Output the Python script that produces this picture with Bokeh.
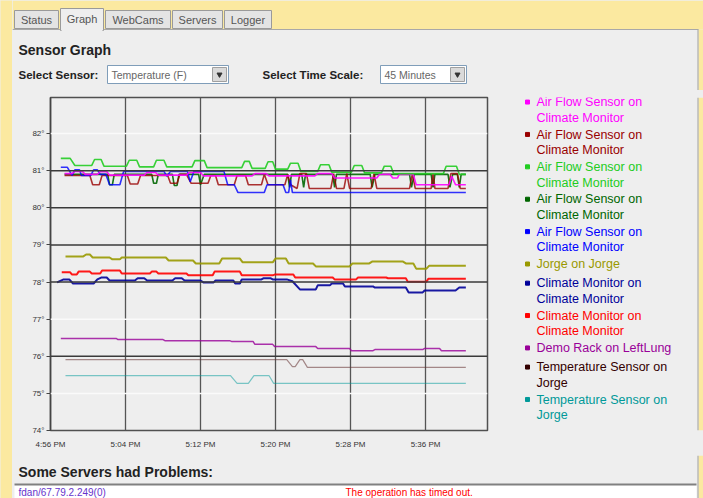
from bokeh.plotting import figure
from bokeh.layouts import row, column
from bokeh.models import Range1d, Span, FixedTicker
from bokeh.core.properties import value
from bokeh.embed import file_html
from bokeh.resources import INLINE

# ---------------- data ----------------
x_ticks = [0, 8, 16, 24, 32, 40]
x_labels = ["4:56 PM", "5:04 PM", "5:12 PM", "5:20 PM", "5:28 PM", "5:36 PM"]
y_ticks = [74, 75, 76, 77, 78, 79, 80, 81, 82]
y_labels = ["74°", "75°", "76°", "77°", "78°", "79°", "80°", "81°", "82°"]

series_names = [
    "Air Flow Sensor on\nClimate Monitor",
    "Air Flow Sensor on\nClimate Monitor",
    "Air Flow Sensor on\nClimate Monitor",
    "Air Flow Sensor on\nClimate Monitor",
    "Air Flow Sensor on\nClimate Monitor",
    "Jorge on Jorge",
    "Climate Monitor on\nClimate Monitor",
    "Climate Monitor on\nClimate Monitor",
    "Demo Rack on LeftLung",
    "Temperature Sensor on\nJorge",
    "Temperature Sensor on\nJorge",
]
series_colors = ["#FF00FF", "#990000", "#22CC22", "#006600", "#0000FF", "#999900",
                 "#000099", "#FF0000", "#990099", "#330000", "#009999"]

# minutes after 4:56 PM, temperature in °F
airflow1_t = [1.5, 2.3, 2.6, 3.4, 3.7, 5.0, 5.3, 6.0, 6.3, 10.0, 10.3, 11.2, 11.5, 14.5, 14.8, 16.0, 16.3,
              21.5, 21.8, 23.0, 23.3, 28.2, 28.5, 30.0, 30.3, 34.8, 35.1, 36.2, 36.5, 37.0, 37.2, 38.7, 39.0,
              42.5, 42.8, 43.2, 44.3]
airflow1_v = [80.92, 80.92, 80.98, 80.98, 80.90, 80.90, 80.97, 80.97, 80.88, 80.88, 80.95, 80.95, 80.88,
              80.88, 80.95, 80.95, 80.86, 80.86, 80.92, 80.92, 80.86, 80.86, 80.92, 80.92, 80.80, 80.80,
              80.90, 80.90, 80.80, 80.80, 80.90, 80.90, 80.62, 80.62, 80.85, 80.62, 80.62]

airflow2_t = [1.5, 4.2, 4.5, 5.2, 5.5, 8.2, 8.5, 9.3, 9.6, 12.5, 12.8, 13.5, 13.8, 14.5, 15.0, 16.8, 17.1,
              17.6, 17.9, 19.6, 19.9, 20.8, 21.1, 22.5, 22.8, 23.2, 25.0, 25.3, 25.6, 26.3, 26.6, 27.3, 27.6,
              29.9, 30.2, 30.5, 31.3, 31.6, 31.9, 34.2, 34.5, 34.8, 38.3, 38.6, 38.9, 40.6, 40.8, 41.0,
              42.4, 42.7, 43.4, 43.7, 44.3]
airflow2_v = [80.87, 80.87, 80.62, 80.62, 80.87, 80.87, 80.64, 80.64, 80.87, 80.87, 80.66, 80.66, 80.90,
              80.90, 80.66, 80.66, 80.87, 80.87, 80.62, 80.62, 80.87, 80.87, 80.62, 80.62, 80.90, 80.62,
              80.62, 80.90, 80.62, 80.52, 80.92, 80.92, 80.52, 80.52, 80.92, 80.52, 80.52, 80.92, 80.52,
              80.52, 80.92, 80.52, 80.52, 80.92, 80.52, 80.52, 80.92, 80.52, 80.52, 80.92, 80.92, 80.52,
              80.52]

airflow3_t = [1.1, 2.1, 2.6, 4.4, 4.7, 5.4, 5.7, 8.1, 8.4, 9.2, 9.5, 11.0, 11.3, 12.1, 12.4, 15.1, 15.4,
              16.4, 16.7, 20.4, 20.7, 21.2, 21.5, 22.9, 23.2, 23.7, 24.0, 25.3, 25.6, 26.4, 26.7, 28.5,
              28.8, 29.7, 30.0, 32.1, 32.4, 33.2, 33.5, 35.3, 35.6, 36.3, 36.6, 41.9, 42.2, 43.3, 43.6, 44.3]
airflow3_v = [81.33, 81.33, 81.14, 81.14, 81.30, 81.30, 81.12, 81.12, 81.28, 81.28, 81.10, 81.10, 81.28,
              81.28, 81.10, 81.10, 81.27, 81.27, 81.08, 81.08, 81.25, 81.25, 81.06, 81.06, 81.24, 81.24,
              81.04, 81.04, 81.20, 81.20, 80.98, 80.98, 81.16, 81.16, 80.96, 80.96, 81.14, 81.14, 80.94,
              80.94, 81.12, 81.12, 80.92, 80.92, 81.12, 81.12, 80.90, 80.90]

airflow4_t = [1.5, 6.1, 6.3, 6.6, 6.8, 10.8, 11.0, 11.3, 11.5, 13.0, 13.2, 13.5, 13.7, 15.8, 16.0, 16.4,
              25.3, 25.5, 25.7, 26.8, 27.0, 27.2, 30.1, 30.3, 30.5, 34.1, 34.3, 34.6, 38.3, 38.5, 38.8,
              40.6, 40.8, 41.0, 42.4, 42.6, 42.9, 43.4, 43.6, 43.8, 44.3]
airflow4_v = [80.90, 80.90, 80.62, 80.62, 80.90, 80.90, 80.66, 80.66, 80.90, 80.90, 80.60, 80.60, 80.90,
              80.90, 80.62, 80.90, 80.90, 80.55, 80.90, 80.90, 80.55, 80.90, 80.90, 80.55, 80.90, 80.90,
              80.55, 80.90, 80.90, 80.55, 80.90, 80.90, 80.55, 80.90, 80.90, 80.55, 80.90, 80.90, 80.55,
              80.90, 80.90]

airflow5_t = [1.1, 1.8, 2.3, 2.6, 3.1, 3.3, 4.3, 4.6, 5.0, 5.3, 5.9, 6.3, 7.4, 7.8, 12.1, 12.4, 12.8,
              14.6, 14.9, 15.3, 18.5, 18.9, 19.6, 20.0, 22.8, 23.1, 24.8, 25.1, 25.4, 25.6, 25.8, 44.3]
airflow5_v = [81.09, 81.09, 80.87, 81.02, 81.02, 80.87, 80.87, 81.02, 81.02, 80.90, 80.90, 80.62, 80.62,
              80.98, 80.98, 80.85, 80.98, 80.98, 80.70, 80.98, 80.98, 80.62, 80.62, 80.41, 80.41, 80.62,
              80.62, 80.41, 80.41, 80.75, 80.41, 80.41]

jorge_t = [1.6, 3.5, 3.8, 4.2, 4.5, 6.3, 6.6, 7.4, 7.6, 12.3, 12.6, 15.2, 15.5, 18.0, 18.3, 20.2, 20.5,
           23.7, 24.0, 25.1, 25.4, 28.0, 28.3, 31.9, 32.2, 34.0, 34.3, 37.6, 37.9, 38.7, 39.0, 40.1, 40.4,
           44.3]
jorge_v = [78.69, 78.69, 78.74, 78.74, 78.66, 78.66, 78.61, 78.61, 78.66, 78.66, 78.58, 78.58, 78.50,
           78.50, 78.63, 78.63, 78.53, 78.53, 78.63, 78.63, 78.50, 78.50, 78.42, 78.42, 78.50, 78.50,
           78.55, 78.55, 78.50, 78.50, 78.36, 78.36, 78.44, 78.44]

climate_navy_t = [0.7, 1.4, 2.0, 2.4, 4.6, 5.0, 5.4, 6.0, 6.3, 9.0, 9.3, 10.0, 10.3, 13.0, 13.3, 14.0,
                  14.3, 16.0, 16.3, 17.4, 17.6, 19.5, 19.7, 20.2, 20.4, 22.5, 22.7, 23.5, 23.7, 25.2,
                  25.8, 26.6, 28.3, 28.5, 29.8, 30.0, 31.2, 31.4, 34.4, 34.6, 37.9, 38.2, 39.7, 39.9,
                  43.2, 43.6, 44.3]
climate_navy_v = [77.99, 78.07, 78.07, 77.96, 77.96, 78.07, 78.12, 78.12, 78.04, 78.04, 78.10, 78.10,
                  78.04, 78.04, 78.10, 78.10, 78.04, 78.04, 77.99, 77.99, 78.04, 78.04, 77.96, 77.96,
                  78.07, 78.07, 78.10, 78.10, 78.07, 78.07, 78.02, 77.80, 77.80, 77.91, 77.91, 77.96,
                  77.96, 77.88, 77.88, 77.85, 77.85, 77.72, 77.72, 77.77, 77.77, 77.85, 77.85]

climate_red_t = [1.2, 2.1, 2.3, 2.8, 3.0, 4.2, 4.4, 5.3, 5.5, 7.4, 7.6, 10.6, 10.8, 11.3, 11.5, 14.5, 14.7,
                 17.3, 17.5, 20.2, 20.4, 23.7, 23.9, 25.9, 26.1, 30.1, 30.3, 32.6, 32.8, 35.8, 36.0, 37.9,
                 38.1, 40.1, 40.3, 44.3]
climate_red_v = [78.26, 78.26, 78.20, 78.20, 78.28, 78.28, 78.23, 78.23, 78.31, 78.31, 78.23, 78.23, 78.28,
                 78.28, 78.23, 78.23, 78.18, 78.18, 78.28, 78.28, 78.18, 78.18, 78.20, 78.20, 78.12, 78.12,
                 78.07, 78.07, 78.12, 78.12, 78.10, 78.10, 78.01, 78.01, 78.09, 78.09]

demo_t = [1.1, 7.0, 7.2, 12.0, 12.2, 19.1, 19.3, 21.6, 21.8, 23.7, 23.9, 28.3, 28.5, 31.9, 32.1, 34.4,
          34.6, 39.7, 39.9, 41.5, 41.7, 44.3]
demo_v = [76.48, 76.48, 76.45, 76.45, 76.42, 76.42, 76.40, 76.40, 76.32, 76.32, 76.26, 76.26, 76.21, 76.21,
          76.15, 76.15, 76.18, 76.18, 76.21, 76.21, 76.15, 76.15]

tempsensor_brown_t = [1.6, 25.2, 25.8, 26.1, 26.6, 26.9, 27.4, 44.3]
tempsensor_brown_v = [75.91, 75.91, 75.72, 75.72, 75.91, 75.91, 75.70, 75.70]

tempsensor_teal_t = [1.6, 19.2, 19.9, 21.1, 21.7, 23.3, 23.8, 44.3]
tempsensor_teal_v = [75.48, 75.48, 75.27, 75.27, 75.48, 75.48, 75.27, 75.27]

dark_grid = [78, 79, 80, 81, 76]
light_grid = [82, 77, 75]

# ---------------- styling helpers ----------------
PANEL = "#EEEEEE"
YELLOW = "#FBE9A0"
FONT = "Liberation Sans"


def blank(w, h, x0, x1, y_top, y_bottom, bg):
    f = figure(width=w, height=h, x_range=Range1d(x0, x1), y_range=Range1d(y_bottom, y_top),
               output_backend="svg", toolbar_location=None, min_border=0,
               x_axis_location=None, y_axis_location=None,
               background_fill_color=bg, border_fill_color=bg, outline_line_color=None)
    f.grid.visible = False
    return f


def right_edge(f, y_top, y_bottom):
    f.quad(left=[698], right=[703], top=[y_top], bottom=[y_bottom], fill_color=YELLOW, line_color=None)
    f.segment(x0=[697.5], y0=[y_top], x1=[697.5], y1=[y_bottom], line_color="#A0A0A0", line_width=1)


# ---------------- left yellow strip ----------------
strip = blank(12, 498, 0, 12, 0, 498, YELLOW)

# ---------------- header ----------------
hdr = blank(691, 90, 12, 703, 0, 90, PANEL)
hdr.quad(left=[12], right=[703], top=[0], bottom=[29], fill_color=YELLOW, line_color=None)
right_edge(hdr, 29, 90)
hdr.segment(x0=[12], y0=[29], x1=[698], y1=[29], line_color="#A8A8A8", line_width=1)
tab_names = ["Status", "Graph", "WebCams", "Servers", "Logger"]
tab_l = [14, 60, 105, 172, 224]
tab_r = [58, 103, 170, 222, 271]
for i, nm in enumerate(tab_names):
    active = (nm == "Graph")
    top = 8 if active else 10
    bot = 30 if active else 28
    hdr.quad(left=[tab_l[i]], right=[tab_r[i]], top=[top], bottom=[bot],
             fill_color=PANEL if active else "#E4E4E4", line_color="#9A9A9A", line_width=1)
    if active:
        hdr.segment(x0=[tab_l[i] + 1], y0=[29.5], x1=[tab_r[i] - 1], y1=[29.5], line_color=PANEL, line_width=3)
    hdr.text(x=[(tab_l[i] + tab_r[i]) / 2], y=[19 if not active else 18.5], text=[nm],
             text_font=value(FONT), text_font_size="11px", text_color="#555555",
             text_align="center", text_baseline="middle")

hdr.text(x=[18], y=[49], text=["Sensor Graph"], text_font=value(FONT), text_font_size="14px",
         text_font_style="bold", text_color="#222222", text_baseline="middle")
hdr.text(x=[18, 262], y=[74, 74], text=["Select Sensor:", "Select Time Scale:"], text_font=value(FONT),
         text_font_size="11.5px", text_font_style="bold", text_color="#222222", text_baseline="middle")
# dropdowns
dd_l = [107, 380]
dd_r = [228, 466]
dd_txt = ["Temperature (F)", "45 Minutes"]
for i in range(2):
    hdr.quad(left=[dd_l[i]], right=[dd_r[i]], top=[65], bottom=[83], fill_color="white",
             line_color="#7F9DB9", line_width=1)
    hdr.quad(left=[dd_r[i] - 16], right=[dd_r[i] - 2], top=[67], bottom=[81], fill_color="#DADADA",
             line_color="#A0A0A0", line_width=1)
    hdr.scatter(x=[dd_r[i] - 9], y=[74], marker="inverted_triangle", size=5, color="#333333")
    hdr.text(x=[dd_l[i] + 4], y=[74], text=[dd_txt[i]], text_font=value(FONT), text_font_size="10.5px",
             text_color="#666666", text_baseline="middle")

# ---------------- chart ----------------
p = figure(width=488, height=365, x_range=Range1d(0, 46.61), y_range=Range1d(74, 82.97),
           output_backend="svg", toolbar_location=None,
           min_border_left=38, min_border_right=13, min_border_top=7, min_border_bottom=25,
           background_fill_color=PANEL, border_fill_color=PANEL,
           outline_line_color="#505050", outline_line_width=1.5)
p.ygrid.grid_line_color = None
p.xgrid.grid_line_color = "#555555"
p.xgrid.grid_line_width = 1.3
p.xaxis.ticker = FixedTicker(ticks=x_ticks)
p.xaxis.major_label_overrides = dict(zip(x_ticks, x_labels))
p.yaxis.ticker = FixedTicker(ticks=y_ticks)
p.yaxis.major_label_overrides = dict(zip(y_ticks, y_labels))
for ax in (p.xaxis[0], p.yaxis[0]):
    ax.major_label_text_font = FONT
    ax.major_label_text_font_size = "8px"
    ax.major_label_text_color = "#333333"
    ax.minor_tick_line_color = None
p.xaxis.axis_line_color = None
p.xaxis.major_tick_line_color = None
p.xaxis.major_label_standoff = 3
p.yaxis.axis_line_color = "#444444"
p.yaxis.axis_line_width = 1.5
p.yaxis.major_tick_out = 4
p.yaxis.major_tick_in = 0
p.yaxis.major_tick_line_color = "#444444"
p.yaxis.major_label_standoff = 2

for v in dark_grid:
    p.add_layout(Span(location=v, dimension="width", line_color="#3A3A3A", line_width=1.5))
for v in light_grid:
    p.add_layout(Span(location=v, dimension="width", line_color="#FAFAFA", line_width=1.5))

series = [
    (tempsensor_brown_t, tempsensor_brown_v, "#663333", 1.2, 0.55),
    (tempsensor_teal_t, tempsensor_teal_v, "#009999", 1.2, 0.5),
    (demo_t, demo_v, "#990099", 1.5, 0.8),
    (climate_navy_t, climate_navy_v, "#000099", 2.0, 0.9),
    (climate_red_t, climate_red_v, "#FF0000", 2.0, 0.9),
    (jorge_t, jorge_v, "#999900", 2.0, 0.9),
    (airflow4_t, airflow4_v, "#006600", 1.6, 0.9),
    (airflow2_t, airflow2_v, "#990000", 1.6, 0.8),
    (airflow5_t, airflow5_v, "#0000FF", 1.6, 0.8),
    (airflow1_t, airflow1_v, "#FF00FF", 1.6, 0.9),
    (airflow3_t, airflow3_v, "#22CC22", 1.6, 0.9),
]
for t, v, c, w, a in series:
    p.line(t, v, line_color=c, line_width=w, line_alpha=a)

# ---------------- legend ----------------
leg = blank(203, 365, 500, 703, 90, 455, PANEL)
right_edge(leg, 90, 455)
ys = []
y = 95
for nm in series_names:
    ys.append(y)
    y += 14.5 * (nm.count("\n") + 1) + 6.5
leg.scatter(x=[527] * len(ys), y=ys, marker="square", size=4, color=series_colors)
leg.text(x=[536] * len(ys), y=[v - 7.5 for v in ys], text=series_names, text_font=value(FONT),
         text_font_size="12.5px", text_color=series_colors, text_baseline="top", text_line_height=1.12)

# ---------------- footer ----------------
ftr = blank(691, 43, 12, 703, 455, 498, PANEL)
right_edge(ftr, 455, 498)
ftr.text(x=[18], y=[471], text=["Some Servers had Problems:"], text_font=value(FONT),
         text_font_size="14px", text_font_style="bold", text_color="#222222", text_baseline="middle")
ftr.quad(left=[14], right=[696], top=[484], bottom=[500], fill_color="white", line_color=None)
ftr.segment(x0=[14], y0=[484], x1=[696], y1=[484], line_color="#808080", line_width=2)
ftr.text(x=[18, 345], y=[492, 492], text=["fdan/67.79.2.249(0)", "The operation has timed out."],
         text_font=value(FONT), text_font_size="10px", text_color=["#6633CC", "#FF0000"],
         text_baseline="middle")

bg = {"background-color": PANEL}
mid = row(p, leg, styles=bg)
right_col = column(hdr, mid, ftr, styles=bg)
layout = row(strip, right_col, styles=bg)
open("out.html", "w").write(file_html(layout, INLINE))
